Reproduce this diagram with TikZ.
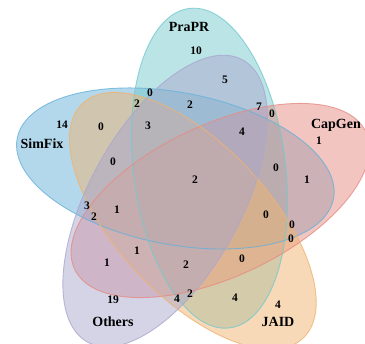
\documentclass[tikz,border=0pt]{standalone}
\usepackage{fontspec}
\setmainfont{Liberation Serif}
\definecolor{simfix}{RGB}{103,177,217}
\definecolor{prapr}{RGB}{117,201,205}
\definecolor{capgen}{RGB}{229,139,131}
\definecolor{jaid}{RGB}{239,179,113}
\definecolor{others}{RGB}{171,167,205}
\begin{document}
\begin{tikzpicture}[x=1pt,y=1pt,
  setfill/.style={fill=#1, fill opacity=0.5},
  setline/.style={draw=#1, line width=0.9pt, draw opacity=0.8},
  count/.style={font=\bfseries\fontsize{11.5}{11.5}\selectfont, inner sep=0pt, text depth=0pt},
  setname/.style={font=\bfseries\fontsize{14}{14}\selectfont, inner sep=0pt, text depth=0pt}]
\useasboundingbox (0,0) rectangle (365,344);
\coordinate (C) at (192.6,152.2);
% five congruent ellipses, 72 degrees apart
\foreach \off/\ax/\col in {126.5/-10.8/simfix, 54.5/97.2/prapr, 342.5/25.2/capgen, 270.5/133.2/jaid, 198.5/61.2/others}
  \path[setfill=\col, shift={(C)}, shift={(\off:29)}, rotate=\ax] (0,0) ellipse [x radius=161, y radius=76];
\foreach \off/\ax/\col in {126.5/-10.8/simfix, 54.5/97.2/prapr, 342.5/25.2/capgen, 270.5/133.2/jaid, 198.5/61.2/others}
  \path[setline=\col, shift={(C)}, shift={(\off:29)}, rotate=\ax] (0,0) ellipse [x radius=161, y radius=76];
% set names
\node[setname] (lprapr) at (189,317) {PraPR};
\node[setname] (lsimfix) at (42,200) {SimFix};
\node[setname] (lcapgen) at (336,220) {CapGen};
\node[setname] (ljaid) at (278,22) {JAID};
\node[setname] (lothers) at (113,22) {Others};
% region counts
\node[count] (c1) at (196,293) {10};
\node[count] (c2) at (225,264) {5};
\node[count] (c3) at (150,251) {0};
\node[count] (c4) at (137,240) {2};
\node[count] (c5) at (190,239) {2};
\node[count] (c6) at (259,237) {7};
\node[count] (c7) at (272,230) {0};
\node[count] (c8) at (62,219) {14};
\node[count] (c9) at (101,217) {0};
\node[count] (c10) at (148,218) {3};
\node[count] (c11) at (242,212) {4};
\node[count] (c12) at (319,203) {1};
\node[count] (c13) at (113,182) {0};
\node[count] (c14) at (276,176) {0};
\node[count] (c15) at (307,164) {1};
\node[count] (c16) at (195,164) {2};
\node[count] (c17) at (87,138) {3};
\node[count] (c18) at (94,127) {2};
\node[count] (c19) at (117,134) {1};
\node[count] (c20) at (266,129) {0};
\node[count] (c21) at (292,119) {0};
\node[count] (c22) at (291,105) {0};
\node[count] (c23) at (137,93) {1};
\node[count] (c24) at (107,81) {1};
\node[count] (c25) at (242,85) {0};
\node[count] (c26) at (186,79) {2};
\node[count] (c27) at (190,50) {2};
\node[count] (c28) at (177,45) {4};
\node[count] (c29) at (235,46) {4};
\node[count] (c30) at (113,44) {19};
\node[count] (c31) at (278,39) {4};
\end{tikzpicture}
\end{document}
